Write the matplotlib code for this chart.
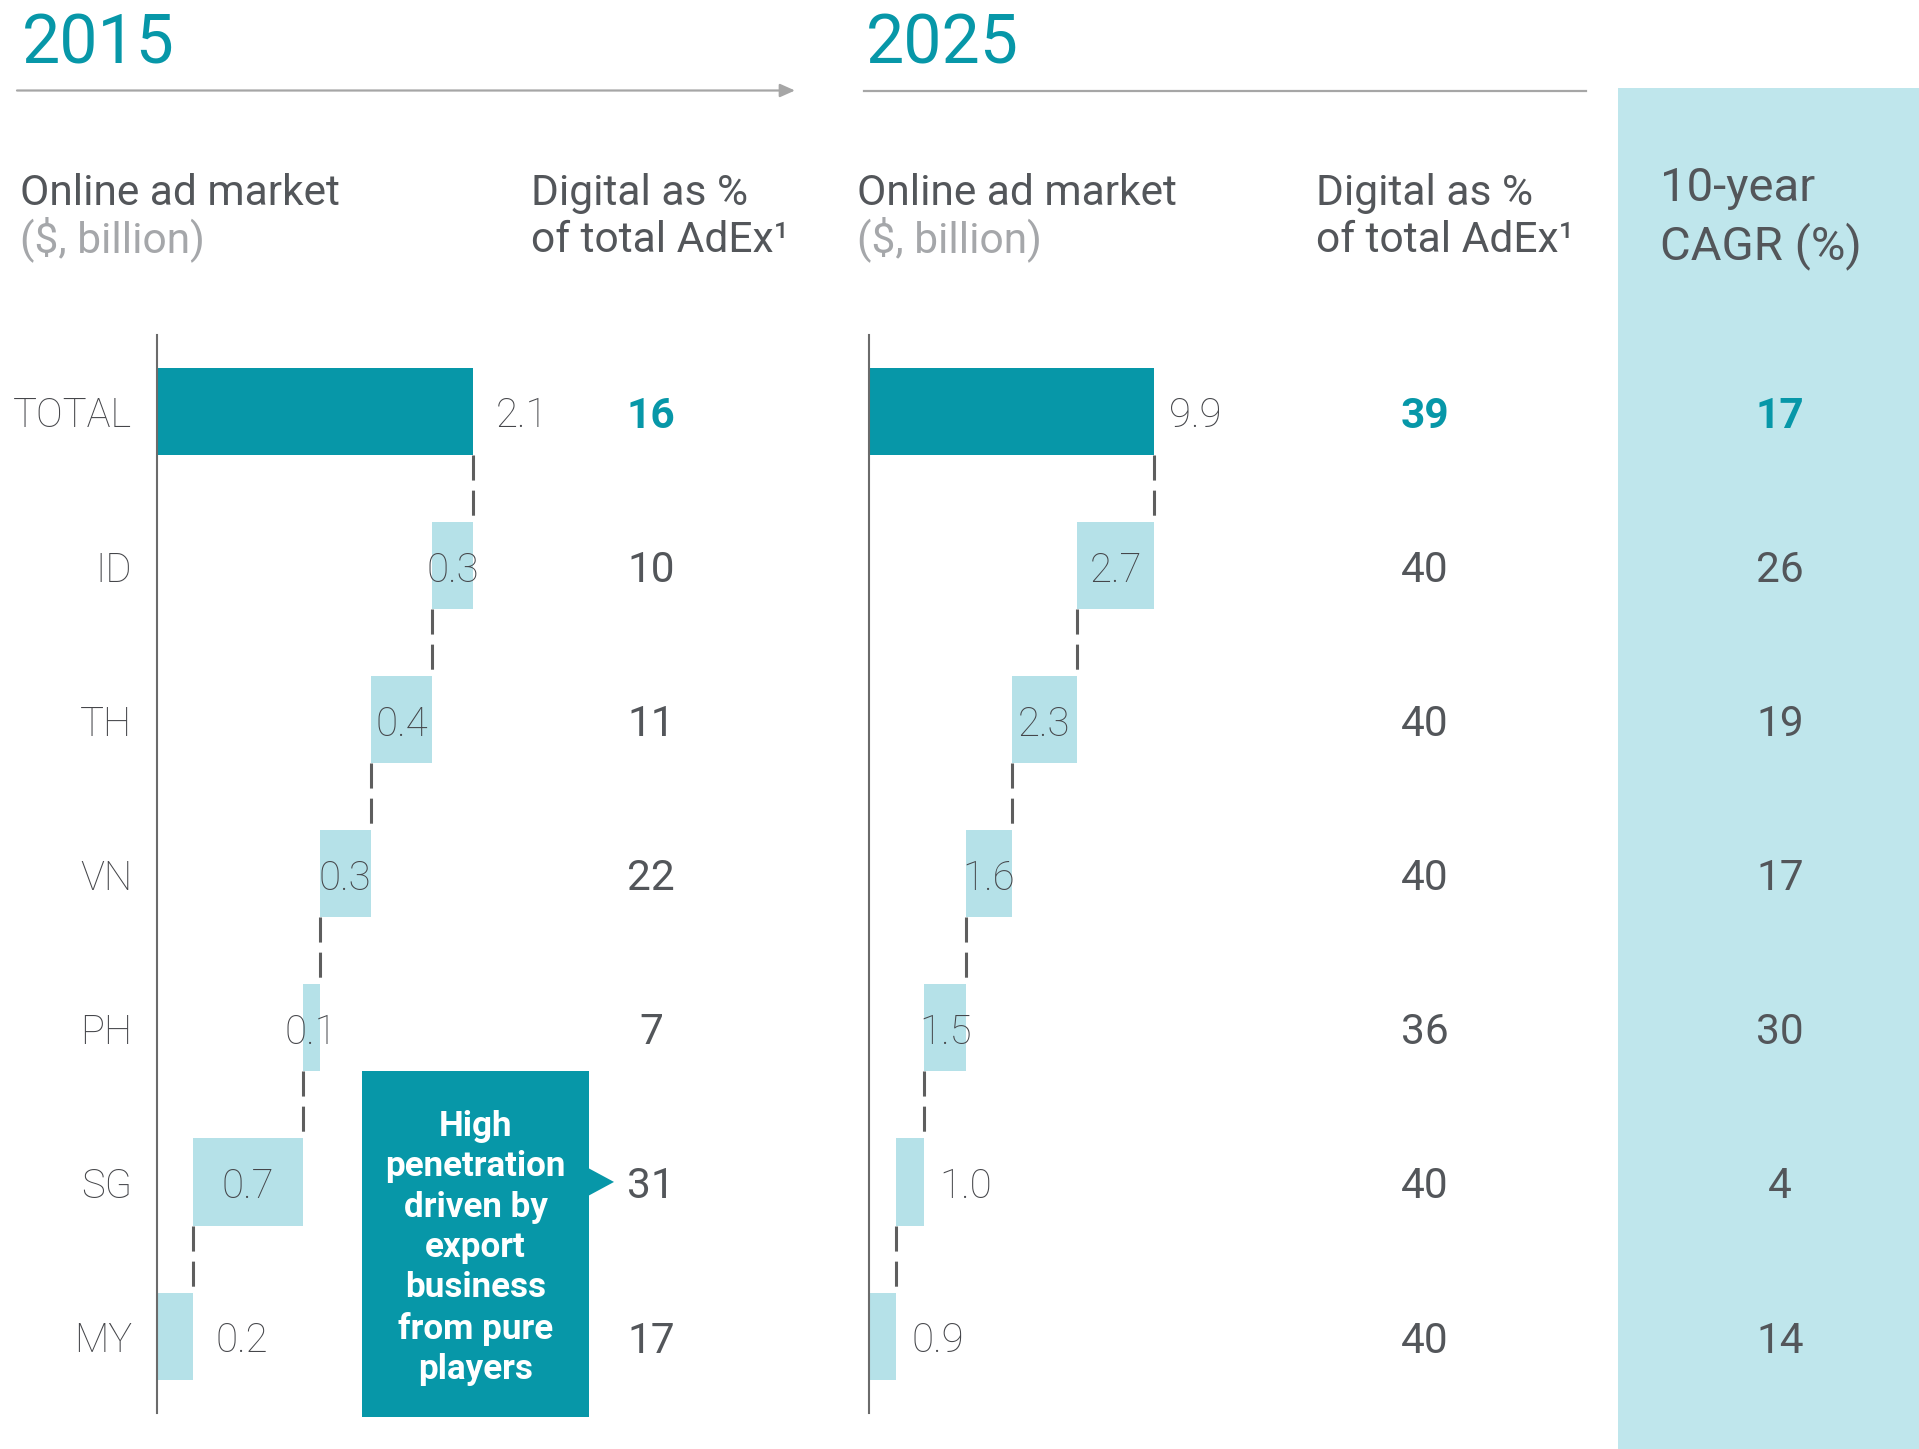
import matplotlib
matplotlib.use("Agg")
import matplotlib.pyplot as plt
from matplotlib.patches import Polygon, Rectangle, FancyArrowPatch
from matplotlib.transforms import blended_transform_factory, offset_copy

plt.rcParams['font.family'] = ['Roboto', 'DejaVu Sans']

# data: online ad market ($ bn) by country, digital share of AdEx (%), CAGR (%)
countries = ['TOTAL', 'ID', 'TH', 'VN', 'PH', 'SG', 'MY']
total_2015 = 2.1
market_2015 = [0.27, 0.41, 0.34, 0.11, 0.73, 0.24]
total_2025 = 9.9
market_2025 = [2.68, 2.26, 1.58, 1.46, 0.98, 0.94]
digital_2015 = [16, 10, 11, 22, 7, 31, 17]
digital_2025 = [39, 40, 40, 40, 36, 40, 40]
cagr = [17, 26, 19, 17, 30, 4, 14]
note = 'High\npenetration\ndriven by\nexport\nbusiness\nfrom pure\nplayers'

TEAL = '#0797A8'
LIGHT = '#B5E1E8'
PANEL = '#BFE6EC'
DARK = '#53565A'
LABEL = '#45464A'
GREY = '#A5A7AA'
RULE = '#A6A6A6'
AXIS = '#6B6B6B'

W, H = 1919, 1449
fig = plt.figure(figsize=(W / 100, H / 100), dpi=100)


def fx(x):
    return x / W


def fy(y):
    return 1 - y / H


# row layout in pixels
ROW0, PITCH = 411.1, 154.17
AX_TOP, AX_BOT = 335, 1412.7
BAR_H = 87.2 / PITCH
ylim = ((AX_BOT - ROW0) / PITCH, (AX_TOP - ROW0) / PITCH)
NUDGE = -5  # dots; drops row text onto the bar centre line

# light panel behind the CAGR column
fig.add_artist(Rectangle((fx(1618), 0), fx(W) - fx(1618), fy(88),
                         transform=fig.transFigure, color=PANEL, lw=0, zorder=0))

# period headers and rules
fig.text(fx(22), fy(64), '2015', fontsize=49, color=TEAL, va='baseline')
fig.text(fx(866), fy(64), '2025', fontsize=49, color=TEAL, va='baseline')
fig.add_artist(FancyArrowPatch((fx(17), fy(90.5)), (fx(795), fy(90.5)),
                               transform=fig.transFigure, arrowstyle='-|>,head_length=9,head_width=4',
                               color=RULE, lw=1.6, mutation_scale=1, shrinkA=0, shrinkB=0))
fig.add_artist(plt.Line2D([fx(864), fx(1586)], [fy(90.5), fy(90.5)],
                          transform=fig.transFigure, color=RULE, lw=1.6))

# column headings
hdr = dict(fontsize=30.6, color=DARK, va='baseline')
for x0 in (20, 857):
    fig.text(fx(x0), fy(205), 'Online ad market', **hdr)
    fig.text(fx(x0), fy(252), '($, billion)', fontsize=30.6, color=GREY, va='baseline')
for x0 in (531, 1316):
    fig.text(fx(x0), fy(205), 'Digital as %', **hdr)
    fig.text(fx(x0), fy(252), 'of total AdEx¹', **hdr)
fig.text(fx(1660), fy(201), '10-year', fontsize=34, color=DARK, va='baseline')
fig.text(fx(1660), fy(259), 'CAGR (%)', fontsize=34, color=DARK, va='baseline')


def waterfall(ax, total, parts, outside, scale_max, pad):
    rows = list(range(len(parts) + 1))
    widths = [total] + parts
    lefts = [0.0]
    cum = total
    for v in parts:
        cum -= v
        lefts.append(cum)
    colors = [TEAL] + [LIGHT] * len(parts)
    ax.barh(rows, widths, left=lefts, height=BAR_H, color=colors, lw=0, zorder=2)
    # dashed connectors between consecutive bars
    for i in range(len(parts)):
        xc = lefts[i + 1] + widths[i + 1]
        ax.plot([xc, xc], [i + BAR_H / 2, i + 1 - BAR_H / 2], color='#5E5E5E', lw=2.2,
                linestyle=(0, (8.2, 3.3)), solid_capstyle='butt', zorder=3)
    lab_tr = offset_copy(ax.transData, fig=fig, y=NUDGE, units='dots')
    for i, (lf, w) in enumerate(zip(lefts, widths)):
        txt = f'{w:.1f}'
        if outside[i]:
            ax.annotate(txt, (lf + w, i), xytext=(pad, NUDGE * 0.72), textcoords='offset points',
                        ha='left', va='center', fontsize=29, color=LABEL, fontweight='light')
        else:
            ax.text(lf + w / 2, i, txt, transform=lab_tr, ha='center', va='center', fontsize=29,
                    color=LABEL, fontweight='light', zorder=4)
    ax.set_xlim(0, scale_max)
    ax.set_ylim(*ylim)
    ax.set_xticks([])
    ax.set_yticks([])
    for s in ('top', 'right', 'bottom'):
        ax.spines[s].set_visible(False)
    ax.spines['left'].set_color(AXIS)
    ax.spines['left'].set_linewidth(1.5)
    ax.patch.set_alpha(0)


px15 = 150.5
ax1 = fig.add_axes([fx(157), fy(AX_BOT), 2.6 * px15 / W, (AX_BOT - AX_TOP) / H])
waterfall(ax1, total_2015, market_2015, [True, False, False, False, False, False, True], 2.6, 16)

px25 = 28.8
ax2 = fig.add_axes([fx(869), fy(AX_BOT), 12 * px25 / W, (AX_BOT - AX_TOP) / H])
waterfall(ax2, total_2025, market_2025, [True, False, False, False, False, True, True], 12, 11)

# category labels and number columns
tr = offset_copy(blended_transform_factory(fig.transFigure, ax1.transData),
                 fig=fig, y=NUDGE, units='dots')
for i, c in enumerate(countries):
    fig.text(fx(132), i, c, transform=tr, ha='right', va='center', fontsize=28.8,
             color=LABEL, fontweight='light')
    for xc, vals in ((651, digital_2015), (1425, digital_2025), (1780, cagr)):
        bold = i == 0
        fig.text(fx(xc), i, str(vals[i]), transform=tr, ha='center', va='center',
                 fontsize=30.5, color=TEAL if bold else DARK,
                 fontweight='bold' if bold else 'normal')

# callout box pointing at the SG row
sg = ROW0 + countries.index('SG') * PITCH
bx0, bx1, by0, by1 = 362, 589, 1071, 1417
pts = [(bx0, by0), (bx1, by0), (bx1, sg - 13.5), (bx1 + 25, sg), (bx1, sg + 13.5),
       (bx1, by1), (bx0, by1)]
fig.add_artist(Polygon([(fx(x), fy(y)) for x, y in pts], closed=True,
                       transform=fig.transFigure, color=TEAL, lw=0, zorder=5))
fig.text(fx((bx0 + bx1) / 2), fy((by0 + by1) / 2 + 4), note, ha='center', va='center',
         fontsize=25.2, color='white', fontweight='bold', linespacing=1.28, zorder=6)

fig.savefig('out.png', dpi=100)
